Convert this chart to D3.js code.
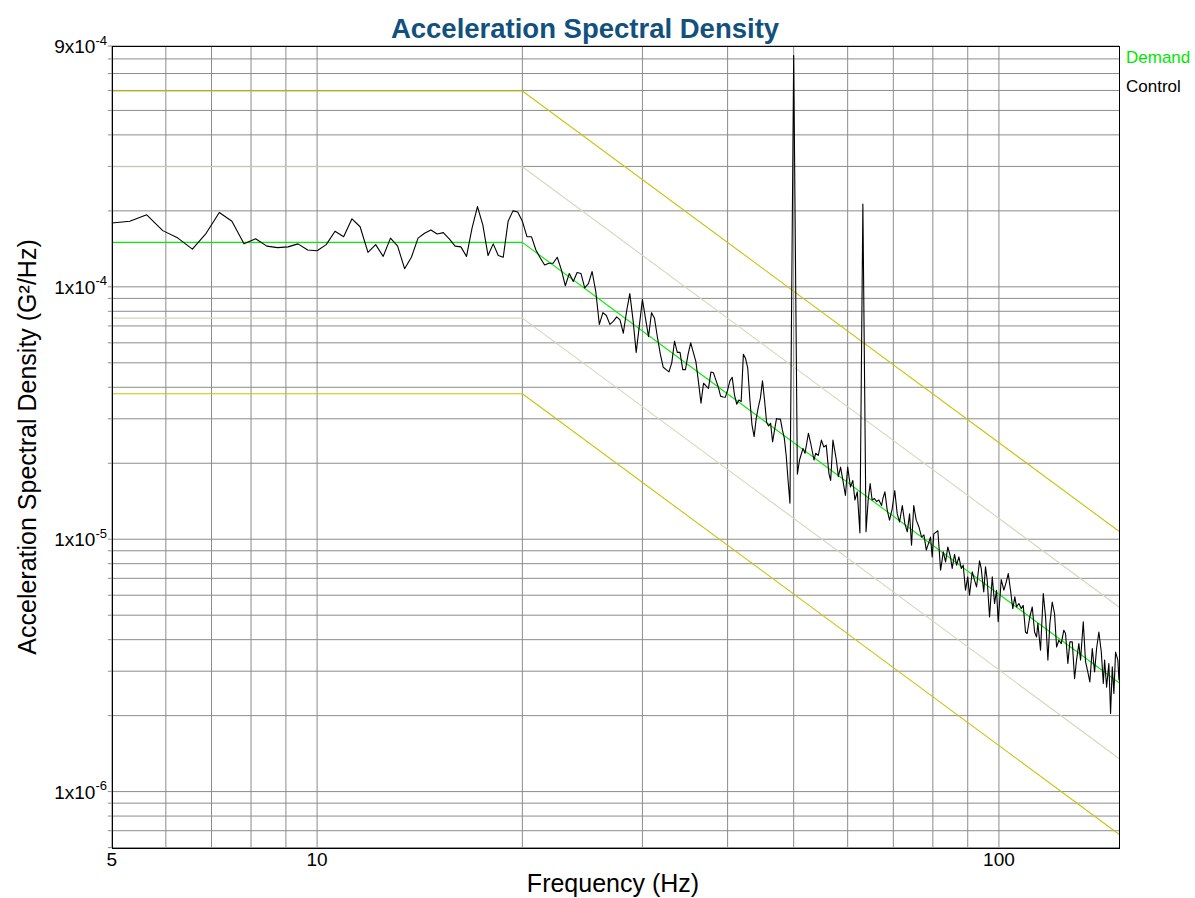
<!DOCTYPE html>
<meta charset="utf-8">
<title>Acceleration Spectral Density</title>
<style>
body { margin:0; background:#fff; }
svg { font-family: "Liberation Sans", Arial, sans-serif; }
.grid line { stroke:#8c8c8c; stroke-width:1px; }
.frame { fill:none; stroke:#000; stroke-width:1px; shape-rendering:crispEdges; }
.tick { font-size:19px; fill:#000; }
.axis-title { font-size:25px; fill:#000; }
.title { font-size:27.5px; font-weight:bold; fill:#12507e; }
.legend { font-size:17px; }
</style>
<body>
<div id="chart"></div>
<script src="https://d3js.org/d3.v7.min.js"></script>
<script>
var width = 1195, height = 898;

var xDomain = [5, 150];
var yDomain = [6e-7, 9e-4];
var xTickLabels = [5, 10, 100];
var yTickLabels = [9e-4, 1e-4, 1e-5, 1e-6];

// reference profile and tolerance bands (frequency Hz, G^2/Hz)
var demand    = [[5, 1.5e-4],  [20, 1.5e-4],  [150, 2.70e-6]];
var abortHigh = [[5, 5.97e-4], [20, 5.97e-4], [150, 1.075e-5]];
var alarmHigh = [[5, 2.99e-4], [20, 2.99e-4], [150, 5.39e-6]];
var alarmLow  = [[5, 7.52e-5], [20, 7.52e-5], [150, 1.353e-6]];
var abortLow  = [[5, 3.77e-5], [20, 3.77e-5], [150, 6.78e-7]];

var controlLow = [
  [5,1.79e-4],[5.3125,1.82e-4],[5.625,1.93e-4],[5.9375,1.67e-4],[6.25,1.56e-4],[6.5625,1.41e-4],
  [6.875,1.63e-4],[7.1875,1.97e-4],[7.5,1.82e-4],[7.8125,1.48e-4],[8.125,1.55e-4],[8.4375,1.45e-4],
  [8.75,1.43e-4],[9.0625,1.44e-4],[9.375,1.48e-4],[9.6875,1.40e-4],[10,1.39e-4],[10.3125,1.47e-4],
  [10.625,1.66e-4],[10.9375,1.58e-4],[11.25,1.86e-4],[11.5625,1.73e-4],[11.875,1.37e-4],[12.1875,1.47e-4],
  [12.5,1.32e-4],[12.8125,1.56e-4],[13.125,1.45e-4],[13.4375,1.18e-4],[13.75,1.31e-4],[14.0625,1.56e-4],
  [14.375,1.63e-4],[14.6875,1.68e-4],[15,1.62e-4],[15.3125,1.64e-4],[15.625,1.55e-4],[15.9375,1.45e-4],
  [16.25,1.44e-4],[16.5625,1.32e-4],[16.875,1.71e-4],[17.1875,2.08e-4],[17.5,1.76e-4],[17.8125,1.33e-4],
  [18.125,1.48e-4],[18.4375,1.33e-4],[18.75,1.31e-4],[19.0625,1.82e-4],[19.375,2.00e-4],[19.6875,1.98e-4],
  [20,1.82e-4]
];

var controlMid = [
  [20.3125,1.58e-4],[20.625,1.58e-4],[20.9375,1.40e-4],[21.25,1.30e-4],[21.5625,1.22e-4],[21.875,1.24e-4],
  [22.1875,1.24e-4],[22.5,1.31e-4],[22.8125,1.17e-4],[23.125,1.01e-4],[23.4375,1.13e-4],[23.75,1.05e-4],
  [24.0625,1.14e-4],[24.375,1.13e-4],[24.6875,0.99e-4],[25,1.03e-4],[25.3125,1.15e-4],[25.625,0.96e-4],
  [25.9375,0.71e-4],[26.25,0.79e-4],[26.5625,0.77e-4],[26.875,0.71e-4],[27.1875,0.73e-4],[27.5,0.76e-4],
  [27.8125,0.74e-4],[28.125,0.655e-4],[28.4375,0.80e-4],[28.75,0.94e-4],[29.0625,0.74e-4],[29.375,0.55e-4],
  [29.6875,0.70e-4],[30,0.89e-4],[30.3125,0.75e-4],[30.625,0.635e-4],[30.9375,0.79e-4],[31.25,0.75e-4],
  [31.5625,0.63e-4],[31.875,0.54e-4],[32.1875,0.48e-4],[32.5,0.47e-4],[32.8125,0.46e-4],[33.125,0.50e-4],
  [33.4375,0.61e-4],[33.75,0.55e-4],[34.0625,0.55e-4],[34.375,0.47e-4],[34.6875,0.47e-4],[35,0.54e-4],
  [35.3125,0.60e-4],[35.625,0.55e-4],[35.9375,0.505e-4],[36.25,0.42e-4],[36.5625,0.346e-4],[36.875,0.415e-4],
  [37.1875,0.405e-4],[37.5,0.396e-4],[37.8125,0.46e-4],[38.125,0.457e-4],[38.4375,0.428e-4],[38.75,0.402e-4],
  [39.0625,0.369e-4],[39.375,0.366e-4],[39.6875,0.365e-4],[40,0.39e-4],[40.3125,0.424e-4],[40.625,0.438e-4],
  [40.9375,0.373e-4],[41.25,0.343e-4],[41.5625,0.356e-4],[41.875,0.351e-4],[42.1875,0.54e-4],[42.5,0.52e-4],
  [42.8125,0.477e-4],[43.125,0.356e-4],[43.4375,0.283e-4],[43.75,0.255e-4],[44.0625,0.302e-4],[44.375,0.334e-4],
  [44.6875,0.363e-4],[45,0.424e-4],[45.3125,0.356e-4],[45.625,0.291e-4],[45.9375,0.281e-4],[46.25,0.288e-4],
  [46.5625,0.243e-4],[46.875,0.271e-4],[47.1875,0.301e-4],[47.5,0.299e-4],[47.8125,0.299e-4],[48.125,0.271e-4],
  [48.4375,0.252e-4],[48.75,0.215e-4],[49.0625,0.171e-4],[49.375,0.139e-4],[49.6875,1.07e-4],[50,8.25e-4],
  [50.3125,1.2e-4]
];

var controlHigh = [
  [50.625,1.81e-5],[51.0,2.06e-5],[51.6,2.29e-5],[51.95,2.19e-5],[52.55,2.63e-5],[52.96,2.40e-5],
  [53.55,2.06e-5],[53.85,2.19e-5],[54.33,2.15e-5],[54.91,2.47e-5],[55.35,2.32e-5],[55.81,2.36e-5],
  [56.32,1.82e-5],[56.65,1.71e-5],[57.09,2.47e-5],[57.75,2.06e-5],[58.14,1.77e-5],[58.58,1.93e-5],
  [58.91,1.77e-5],[59.55,1.49e-5],[60.0,1.93e-5],[60.57,1.61e-5],[61.05,1.71e-5],[61.48,1.43e-5],
  [61.98,1.54e-5],[62.53,1.06e-5],[63.16,2.13e-4],[63.84,1.07e-5],[64.3,1.43e-5],[64.73,1.66e-5],
  [65.16,1.43e-5],[65.68,1.45e-5],[66.14,1.41e-5],[66.66,1.43e-5],[67.28,1.36e-5],[67.58,1.45e-5],
  [68.04,1.54e-5],[68.58,1.30e-5],[69.11,1.19e-5],[69.73,1.32e-5],[70.34,1.56e-5],[70.93,1.26e-5],
  [71.49,1.17e-5],[72.16,1.36e-5],[72.79,1.15e-5],[73.38,1.07e-5],[73.95,1.26e-5],[74.44,0.947e-5],
  [75.0,1.36e-5],[75.63,1.19e-5],[76.31,1.12e-5],[77.02,1.02e-5],[77.62,1.04e-5],[78.25,0.905e-5],
  [79.37,1.02e-5],[79.82,0.851e-5],[80.25,1.05e-5],[81.36,1.08e-5],[82.12,0.754e-5],[82.87,0.891e-5],
  [83.51,0.813e-5],[84.15,0.932e-5],[84.9,0.851e-5],[85.4,0.766e-5],[86.08,0.872e-5],[86.67,0.789e-5],
  [87.35,0.851e-5],[88.05,0.766e-5],[88.64,0.789e-5],[89.32,0.628e-5],[90.0,0.709e-5],[90.53,0.600e-5],
  [91.38,0.743e-5],[92.09,0.688e-5],[92.72,0.647e-5],[93.66,0.821e-5],[94.19,0.766e-5],[95.0,0.618e-5],
  [95.56,0.777e-5],[96.12,0.688e-5],[96.88,0.492e-5],[97.77,0.709e-5],[98.53,0.556e-5],[99.19,0.628e-5],
  [99.75,0.471e-5],[100.78,0.692e-5],[101.68,0.628e-5],[102.51,0.678e-5],[103.2,0.731e-5],[103.99,0.628e-5],
  [104.79,0.531e-5],[105.51,0.591e-5],[106.12,0.539e-5],[106.96,0.556e-5],[107.83,0.531e-5],[108.55,0.547e-5],
  [109.38,0.429e-5],[110.0,0.423e-5],[110.99,0.492e-5],[111.91,0.539e-5],[112.79,0.429e-5],[113.55,0.410e-5],
  [114.05,0.464e-5],[115.08,0.363e-5],[116.15,0.609e-5],[117.06,0.492e-5],[117.98,0.332e-5],[118.77,0.464e-5],
  [119.72,0.564e-5],[120.66,0.507e-5],[121.49,0.374e-5],[122.44,0.398e-5],[123.43,0.386e-5],[124.5,0.436e-5],
  [125.22,0.423e-5],[126.21,0.322e-5],[127.07,0.392e-5],[128.1,0.392e-5],[129.1,0.280e-5],[129.96,0.332e-5],
  [130.98,0.386e-5],[131.74,0.332e-5],[132.95,0.471e-5],[133.97,0.327e-5],[135.0,0.298e-5],[135.93,0.272e-5],
  [137.06,0.369e-5],[138.13,0.298e-5],[139.07,0.369e-5],[140.14,0.429e-5],[141.3,0.357e-5],[142.26,0.268e-5],
  [142.88,0.332e-5],[143.85,0.259e-5],[144.95,0.322e-5],[145.79,0.204e-5],[146.63,0.312e-5],[147.43,0.245e-5],
  [148.27,0.357e-5],[149.41,0.332e-5],[150,0.276e-5]
];

var control = controlLow.concat(controlMid, controlHigh);

var plot = {left: 111.85, right: 1119, top: 46, bottom: 847.6};

var x = d3.scaleLog().domain(xDomain).range([plot.left, plot.right]);
var y = d3.scaleLog().domain(yDomain).range([plot.bottom, plot.top]);

var svg = d3.select("#chart").append("svg")
    .attr("width", width)
    .attr("height", height);

// grid
var grid = svg.append("g").attr("class", "grid");

grid.selectAll(".h").data(y.ticks())
  .enter().append("line")
    .attr("x1", plot.left - 4)
    .attr("x2", plot.right)
    .attr("y1", function(d) { return y(d); })
    .attr("y2", function(d) { return y(d); });

grid.selectAll(".v").data(x.ticks())
  .enter().append("line")
    .attr("x1", function(d) { return x(d); })
    .attr("x2", function(d) { return x(d); })
    .attr("y1", plot.top)
    .attr("y2", plot.bottom);

var line = d3.line()
    .x(function(d) { return x(d[0]); })
    .y(function(d) { return y(d[1]); });

var series = [
  {data: alarmHigh, color: "#d6d6c0"},
  {data: alarmLow,  color: "#d6d6c0"},
  {data: abortHigh, color: "#c8c40c"},
  {data: abortLow,  color: "#c8c40c"},
  {data: demand,    color: "#00ee00"},
  {data: control,   color: "#000000"}
];

svg.append("g").selectAll("path").data(series)
  .enter().append("path")
    .attr("d", function(d) { return line(d.data); })
    .attr("fill", "none")
    .attr("stroke", function(d) { return d.color; })
    .attr("stroke-width", 1.1)
    .attr("stroke-linejoin", "round");

svg.append("rect")
    .attr("class", "frame")
    .attr("x", Math.round(plot.left) + 0.5)
    .attr("y", plot.top + 0.5)
    .attr("width", Math.round(plot.right - plot.left))
    .attr("height", Math.round(plot.bottom - plot.top));

// tick labels
svg.selectAll(".xl").data(xTickLabels)
  .enter().append("text")
    .attr("class", "tick")
    .attr("x", function(d) { return x(d); })
    .attr("y", 866)
    .attr("text-anchor", "middle")
    .text(function(d) { return d; });

var yl = svg.selectAll(".yl").data(yTickLabels)
  .enter().append("text")
    .attr("class", "tick")
    .attr("x", 107)
    .attr("y", function(d) { return y(d) + 7; })
    .attr("text-anchor", "end");

yl.append("tspan")
    .text(function(d) {
      var e = Math.floor(Math.log10(d) + 1e-9);
      return Math.round(d / Math.pow(10, e)) + "x10";
    });
yl.append("tspan")
    .attr("dy", -8.5)
    .style("font-size", "13px")
    .text(function(d) { return Math.floor(Math.log10(d) + 1e-9); });

// titles
svg.append("text")
    .attr("class", "title")
    .attr("x", 585)
    .attr("y", 38)
    .attr("text-anchor", "middle")
    .text("Acceleration Spectral Density");

svg.append("text")
    .attr("class", "axis-title")
    .attr("x", 613)
    .attr("y", 892)
    .attr("text-anchor", "middle")
    .text("Frequency (Hz)");

svg.append("text")
    .attr("class", "axis-title")
    .attr("transform", "translate(36,447)rotate(-90)")
    .attr("text-anchor", "middle")
    .text("Acceleration Spectral Density (G\u00b2/Hz)");

// legend
svg.append("text")
    .attr("class", "legend")
    .attr("x", 1126)
    .attr("y", 63)
    .style("fill", "#00e600")
    .text("Demand");

svg.append("text")
    .attr("class", "legend")
    .attr("x", 1126)
    .attr("y", 92)
    .style("fill", "#000")
    .text("Control");
</script>
</body>
</html>
